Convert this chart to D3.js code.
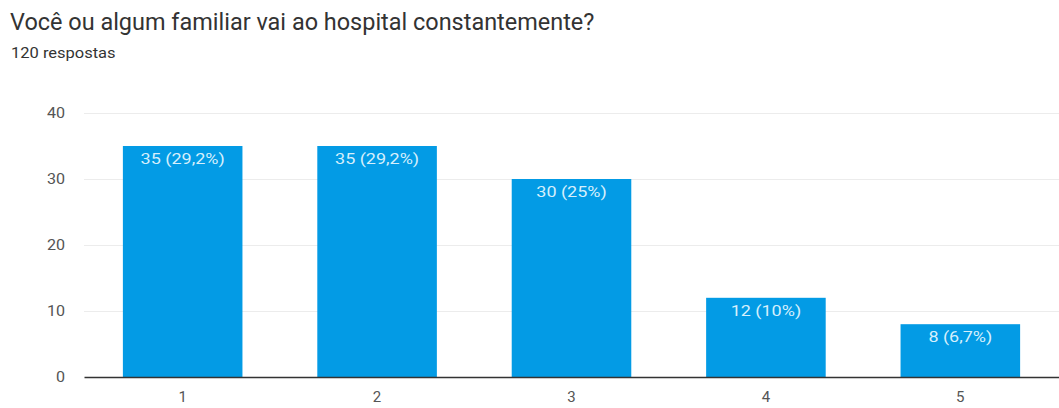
<!DOCTYPE html>
<html><head><meta charset="utf-8">
<script src="https://cdn.jsdelivr.net/npm/d3@7"></script>
<style>body{margin:0;background:#fff;}svg{display:block;font-family:Roboto,Arial,sans-serif;}</style>
</head><body>
<svg id="c" width="1059" height="408"></svg>
<script>
const title = "Você ou algum familiar vai ao hospital constantemente?";
const subtitle = "120 respostas";
const categories = ["1","2","3","4","5"];
const values = [35,35,30,12,8];
const labels = ["35 (29,2%)","35 (29,2%)","30 (25%)","12 (10%)","8 (6,7%)"];
const yTicks = [0,10,20,30,40];

const svg = d3.select("#c");
const mLeft = 84, mRight = 1059, mTop = 113, mBottom = 377;
const x = d3.scaleBand().domain(categories).range([mLeft, mRight]).paddingInner(0.385).paddingOuter(0.2);
const y = d3.scaleLinear().domain([0,40]).range([mBottom, mTop]);

svg.append("text").attr("transform","translate(10,30) scale(1.02,1)").attr("font-size",23).attr("fill","#333").text(title);
svg.append("text").attr("transform","translate(11,58) scale(1.1,1)").attr("font-size",15).attr("fill","#333").text(subtitle);

// grid
svg.append("g").selectAll("line").data(yTicks.filter(d=>d>0)).join("line")
  .attr("x1",mLeft).attr("x2",mRight).attr("y1",d=>y(d)+0.5).attr("y2",d=>y(d)+0.5)
  .attr("stroke","#ececec");

// y tick labels
svg.append("g").selectAll("text").data(yTicks).join("text")
  .attr("transform",d=>`translate(65,${y(d)+5}) scale(1.15,1)`)
  .attr("text-anchor","end").attr("font-size",14).attr("fill","#555")
  .text(d=>d);

svg.append("g").selectAll("rect").data(values).join("rect")
  .attr("x",(d,i)=>x(categories[i])).attr("width",x.bandwidth())
  .attr("y",d=>y(d)).attr("height",d=>mBottom-y(d)).attr("fill","#039be5");

svg.append("g").selectAll("text").data(values).join("text")
  .attr("transform",(d,i)=>`translate(${x(categories[i])+x.bandwidth()/2},${y(d)+18}) scale(1.2,1)`)
  .attr("text-anchor","middle").attr("font-size",15).attr("fill","#d6effc")
  .text((d,i)=>labels[i]);

const xAxis = svg.append("g").attr("transform",`translate(0,${mBottom})`)
  .call(d3.axisBottom(x).tickSize(0).tickPadding(14));
xAxis.select(".domain").attr("stroke","#333").attr("stroke-width",1.5);
xAxis.selectAll("text").attr("font-size",15).attr("fill","#555").attr("font-family","Roboto,Arial,sans-serif");
</script>
</body></html>
